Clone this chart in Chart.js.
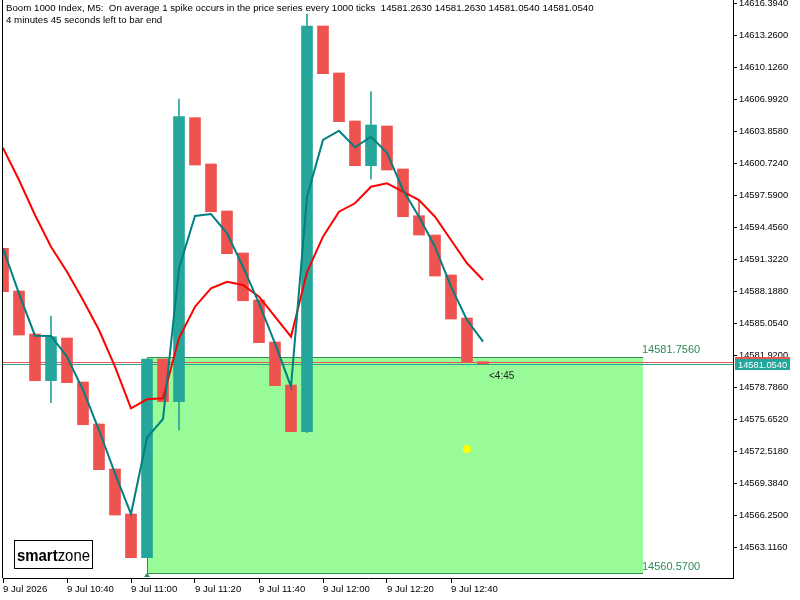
<!DOCTYPE html>
<html><head><meta charset="utf-8">
<script src="https://cdn.jsdelivr.net/npm/chart.js@4.4.1/dist/chart.umd.min.js"></script>
<style>html,body{margin:0;padding:0;background:#fff;}canvas{display:block;}</style>
</head><body>
<canvas id="c" width="800" height="600"></canvas>
<script>
// ---- data (M5 bars, 10:20 .. 12:50) ----
const barIndex = [0,1,2,3,4,5,6,7,8,9,10,11,12,13,14,15,16,17,18,19,20,21,22,23,24,25,26,27,28,29,30];
const openP  = [14592.371,14588.189,14583.978,14579.404,14583.586,14579.277,14575.163,14570.756,14566.348,14562.068,14581.529,14577.347,14605.163,14600.628,14596.025,14591.911,14587.308,14583.194,14578.983,14574.409,14614.144,14609.541,14604.840,14600.462,14604.350,14600.138,14595.565,14593.674,14589.757,14585.545,14581.263];
const highP  = [14592.371,14588.189,14583.978,14585.741,14583.586,14579.277,14575.163,14570.756,14566.348,14581.529,14581.529,14606.995,14605.163,14600.628,14596.025,14591.911,14587.308,14583.194,14578.983,14615.320,14614.144,14609.541,14604.840,14607.710,14604.350,14600.138,14597.171,14593.674,14589.757,14585.545,14581.263];
const lowP   = [14588.121,14583.880,14579.404,14577.249,14579.208,14575.094,14570.687,14566.250,14562.068,14562.068,14577.347,14574.575,14600.530,14595.956,14591.843,14587.239,14583.126,14578.914,14574.409,14574.311,14609.473,14604.771,14600.462,14599.159,14600.041,14595.467,14593.674,14589.659,14585.447,14581.263,14581.054];
const closeP = [14588.121,14583.880,14579.404,14583.713,14579.208,14575.094,14570.687,14566.250,14562.068,14581.529,14577.347,14605.261,14600.530,14595.956,14591.843,14587.239,14583.126,14578.914,14574.409,14614.144,14609.473,14604.771,14600.462,14604.448,14600.041,14595.467,14593.674,14589.659,14585.447,14581.263,14581.054];
const fastMA = [14592.372,14587.925,14583.811,14583.782,14581.755,14578.493,14574.575,14570.334,14566.348,14573.821,14575.653,14590.413,14595.535,14595.731,14593.841,14590.569,14586.985,14583.067,14578.816,14597.426,14602.979,14603.890,14602.264,14603.302,14601.735,14598.082,14595.467,14592.528,14588.611,14585.349,14583.224];
const slowMA = [14602.195,14599.061,14595.633,14592.528,14590.080,14587.308,14584.370,14580.775,14576.701,14577.582,14577.680,14583.586,14586.652,14588.454,14589.100,14588.777,14587.631,14585.672,14583.713,14590.050,14593.508,14595.956,14596.779,14598.405,14598.738,14597.915,14597.102,14595.467,14593.185,14590.902,14589.267];
const xTickIndex  = [0,4,8,12,16,20,24,28];
const xTickLabels = ["9 Jul 2026","9 Jul 10:40","9 Jul 11:00","9 Jul 11:20","9 Jul 11:40","9 Jul 12:00","9 Jul 12:20","9 Jul 12:40"];
const yTickValues = [14563.116,14566.250,14569.384,14572.518,14575.652,14578.786,14581.920,14585.054,14588.188,14591.322,14594.456,14597.590,14600.724,14603.858,14606.992,14610.126,14613.260,14616.394];
const yTickLabels = ["14563.1160","14566.2500","14569.3840","14572.5180","14575.6520","14578.7860","14581.9200","14585.0540","14588.1880","14591.3220","14594.4560","14597.5900","14600.7240","14603.8580","14606.9920","14610.1260","14613.2600","14616.3940"];
const zoneStart = 9, zoneEnd = 40, zoneTop = 14581.756, zoneBottom = 14560.570;
const zoneLabels = ["14581.7560","14560.5700"];
const bidPrice = 14581.054, askPrice = 14581.21;
const bidLabel = "14581.0540";
const markerPoint = [{x:29, y:14572.714}];
const headerLine1 = "Boom 1000 Index, M5:  On average 1 spike occurs in the price series every 1000 ticks  14581.2630 14581.2630 14581.0540 14581.0540";
const headerLine2 = "4 minutes 45 seconds left to bar end";
const timeLeft = "<4:45";

const FONT = "'Liberation Sans', Arial, sans-serif";
const UP = '#26a69a', DOWN = '#ef5350';
const colors = barIndex.map(i => closeP[i] >= openP[i] ? UP : DOWN);

const overlay = {
  id: 'overlay',
  beforeDatasetsDraw(chart) {
    const {ctx, chartArea: a, scales: {x, y}} = chart;
    ctx.save();
    ctx.beginPath(); ctx.rect(a.left, a.top, a.right - a.left, a.bottom - a.top); ctx.clip();
    const x0 = Math.round(x.getPixelForValue(zoneStart)), x1 = Math.round(x.getPixelForValue(zoneEnd));
    const y0 = Math.round(y.getPixelForValue(zoneTop)), y1 = Math.round(y.getPixelForValue(zoneBottom));
    ctx.fillStyle = '#98fb98';
    ctx.fillRect(x0, y0, x1 - x0, y1 - y0);
    ctx.strokeStyle = '#2e8b57'; ctx.lineWidth = 1;
    ctx.beginPath();
    ctx.moveTo(x1, y0 + 0.5); ctx.lineTo(x0 + 0.5, y0 + 0.5); ctx.lineTo(x0 + 0.5, y1 + 0.5); ctx.lineTo(x1, y1 + 0.5);
    ctx.stroke();
    const ya = Math.round(y.getPixelForValue(askPrice)) + 0.5;
    const yb = Math.round(y.getPixelForValue(bidPrice)) + 0.5;
    ctx.strokeStyle = DOWN; ctx.beginPath(); ctx.moveTo(a.left, ya); ctx.lineTo(a.right, ya); ctx.stroke();
    ctx.strokeStyle = UP; ctx.beginPath(); ctx.moveTo(a.left, yb); ctx.lineTo(a.right, yb); ctx.stroke();
    ctx.restore();
  },
  afterDraw(chart) {
    const {ctx, chartArea: a, scales: {x, y}} = chart;
    ctx.save();
    // left frame line
    ctx.strokeStyle = '#000'; ctx.lineWidth = 1;
    ctx.beginPath(); ctx.moveTo(a.left - 0.5, 0); ctx.lineTo(a.left - 0.5, a.bottom); ctx.stroke();
    // zone labels
    const x1 = x.getPixelForValue(zoneEnd);
    ctx.font = "11px " + FONT; ctx.fillStyle = '#2e8b57'; ctx.textBaseline = 'middle'; ctx.textAlign = 'left';
    ctx.fillText(zoneLabels[0], x1 - 1, y.getPixelForValue(zoneTop) - 7);
    ctx.fillText(zoneLabels[1], x1 - 1, y.getPixelForValue(zoneBottom) - 6);
    // anchor triangle
    const xt = x.getPixelForValue(zoneStart);
    ctx.fillStyle = '#2e8b57';
    ctx.beginPath(); ctx.moveTo(xt - 3, a.bottom - 1); ctx.lineTo(xt + 3, a.bottom - 1); ctx.lineTo(xt, a.bottom - 5); ctx.closePath(); ctx.fill();
    // time left label
    ctx.font = "10px " + FONT; ctx.fillStyle = '#222';
    ctx.fillText(timeLeft, x.getPixelForValue(30) + 6, y.getPixelForValue(bidPrice) + 12);
    // header
    ctx.fillStyle = '#000'; ctx.font = "9.7px " + FONT;
    ctx.fillText(headerLine1, 6, 8);
    ctx.fillText(headerLine2, 6, 20);
    // price boxes
    const ya = y.getPixelForValue(askPrice), yb = y.getPixelForValue(bidPrice);
    ctx.fillStyle = DOWN; ctx.fillRect(a.right + 2, Math.round(ya) - 5, 55, 11);
    ctx.fillStyle = UP; ctx.fillRect(a.right + 2, Math.round(yb) - 5, 55, 11);
    ctx.fillStyle = '#fff'; ctx.font = "9.3px " + FONT;
    ctx.fillText(bidLabel, a.right + 5, Math.round(yb) + 1);
    // logo
    ctx.fillStyle = '#fff'; ctx.fillRect(14.5, 540.5, 78, 28);
    ctx.strokeStyle = '#000'; ctx.strokeRect(14.5, 540.5, 78, 28);
    ctx.fillStyle = '#000'; ctx.textBaseline = 'alphabetic';
    ctx.font = "bold 17px " + FONT;
    const w1 = ctx.measureText('smart').width;
    ctx.font = "17px " + FONT;
    const w2 = ctx.measureText('zone').width;
    const sx = 73 / (w1 + w2);
    ctx.translate(17, 561); ctx.scale(sx, 1);
    ctx.font = "bold 17px " + FONT;
    ctx.fillText('smart', 0, 0);
    ctx.font = "17px " + FONT;
    ctx.fillText('zone', w1, 0);
    ctx.restore();
  }
};

new Chart(document.getElementById('c').getContext('2d'), {
  type: 'bar',
  data: {
    datasets: [
      {type: 'line', data: barIndex.map(i => ({x: i, y: fastMA[i]})), borderColor: '#008080', borderWidth: 2, pointRadius: 0, tension: 0, order: 1},
      {type: 'line', data: barIndex.map(i => ({x: i, y: slowMA[i]})), borderColor: '#ff0000', borderWidth: 2, pointRadius: 0, tension: 0, order: 1},
      {type: 'line', data: markerPoint, showLine: false, pointRadius: 4, pointBackgroundColor: '#ffff00', pointBorderWidth: 0, order: 0},
      {type: 'bar', data: barIndex.map(i => ({x: i, y: [openP[i], closeP[i]]})), backgroundColor: colors, barThickness: 11, grouped: false, order: 2},
      {type: 'bar', data: barIndex.map(i => ({x: i, y: [lowP[i], highP[i]]})), backgroundColor: colors, barThickness: 1, grouped: false, order: 3}
    ]
  },
  options: {
    responsive: false, animation: false, events: [],
    plugins: {legend: {display: false}, tooltip: {enabled: false}},
    layout: {autoPadding: false, padding: {left: 3, top: 0, right: 0, bottom: 0}},
    scales: {
      x: {
        type: 'linear', min: 0, max: 45.625, offset: false,
        grid: {offset: false, drawOnChartArea: false, drawTicks: true, tickLength: 5, color: '#000'},
        border: {display: true, color: '#000', width: 1},
        ticks: {autoSkip: false, maxRotation: 0, minRotation: 0, align: 'start', padding: 1, color: '#000', font: {family: FONT, size: 9.6},
          callback: (v) => { const k = xTickIndex.indexOf(v); return k >= 0 ? xTickLabels[k] : ''; }},
        afterBuildTicks: ax => { ax.ticks = xTickIndex.map(v => ({value: v})); },
        afterFit: ax => { ax.height = 22; ax.paddingLeft = 0; ax.paddingRight = 0; }
      },
      y: {
        type: 'linear', position: 'right', min: 14560.080, max: 14616.691,
        grid: {drawOnChartArea: false, drawTicks: true, tickLength: 4, color: '#000'},
        border: {display: true, color: '#000', width: 1},
        ticks: {padding: 2, color: '#000', font: {family: FONT, size: 9.3},
          callback: (v) => { const k = yTickValues.indexOf(v); return k >= 0 ? yTickLabels[k] : ''; }},
        afterBuildTicks: ax => { ax.ticks = yTickValues.map(v => ({value: v})); },
        afterFit: ax => { ax.width = 67; ax.paddingTop = 0; ax.paddingBottom = 0; }
      }
    }
  },
  plugins: [overlay]
});
</script>
</body></html>
